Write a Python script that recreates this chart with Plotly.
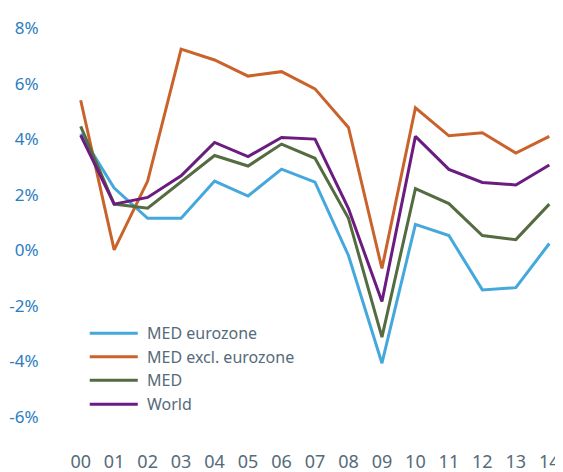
import plotly.graph_objects as go

years = ["00", "01", "02", "03", "04", "05", "06", "07", "08", "09", "10", "11", "12", "13", "14"]

med_eurozone = [4.20, 2.25, 1.16, 1.16, 2.50, 1.96, 2.93, 2.46, -0.18, -4.06, 0.94, 0.54, -1.42, -1.34, 0.25]
med_excl_eurozone = [5.41, 0.02, 2.50, 7.25, 6.86, 6.28, 6.44, 5.82, 4.43, -0.65, 5.14, 4.13, 4.24, 3.51, 4.11]
med = [4.47, 1.67, 1.52, 2.47, 3.42, 3.04, 3.83, 3.32, 1.16, -3.12, 2.23, 1.69, 0.54, 0.39, 1.67]
world = [4.15, 1.67, 1.91, 2.69, 3.89, 3.38, 4.07, 4.01, 1.51, -1.84, 4.11, 2.92, 2.45, 2.36, 3.08]

y_ticks = [-6, -4, -2, 0, 2, 4, 6, 8]
y_tick_labels = ["-6%", "-4%", "-2%", "0%", "2%", "4%", "6%", "8%"]

series = [
    ("MED eurozone", med_eurozone, "#45A8DC"),
    ("MED excl. eurozone", med_excl_eurozone, "#C9632B"),
    ("MED", med, "#556B40"),
    ("World", world, "#6B1C80"),
]

W, H = 563, 472
OFF = 8  # page body margin
ML, MR, MT, MB = 66.3, 15.3, 11.7, 31.2
plot_w = W - ML - MR
plot_h = H - MT - MB

fig = go.Figure()
xs = list(range(len(years)))
for name, vals, color in series:
    fig.add_trace(go.Scatter(x=xs, y=vals, mode="lines", name=name,
                             line=dict(color=color, width=3), showlegend=False))

# custom legend (long line samples as in the reference)
leg_rows_px = [333, 356.5, 380, 404]
for (name, _, color), ypx in zip(series, leg_rows_px):
    yp = (H - MB - (ypx - OFF)) / plot_h
    fig.add_shape(type="line", xref="paper", yref="paper",
                  x0=(90 - OFF - ML) / plot_w, x1=(138 - OFF - ML) / plot_w, y0=yp, y1=yp,
                  line=dict(color=color, width=3))
    fig.add_annotation(xref="paper", yref="paper", x=(145 - OFF - ML) / plot_w, y=yp,
                       xanchor="left", yanchor="middle", text=name, showarrow=False,
                       font=dict(size=16, color="#566B7A"))

fig.update_layout(
    width=W, height=H,
    margin=dict(l=ML, r=MR, t=MT, b=MB),
    paper_bgcolor="white", plot_bgcolor="white",
    font=dict(family="Noto Sans", color="#566B7A"),
    showlegend=False,
)
fig.update_xaxes(range=[-0.2, 14.2], tickmode="array", tickvals=xs, ticktext=years,
                 showgrid=False, zeroline=False, showline=False, automargin=False,
                 tickfont=dict(size=18, color="#566B7A"), ticks="")
fig.update_yaxes(range=[-7.15, 8.3], tickmode="array", tickvals=y_ticks, ticktext=y_tick_labels,
                 showgrid=False, zeroline=False, showline=False, automargin=False,
                 tickfont=dict(size=17, color="#2C7DC0"), ticks="outside", ticklen=0,
                 ticklabelstandoff=31)

fig.write_html("out.html")
